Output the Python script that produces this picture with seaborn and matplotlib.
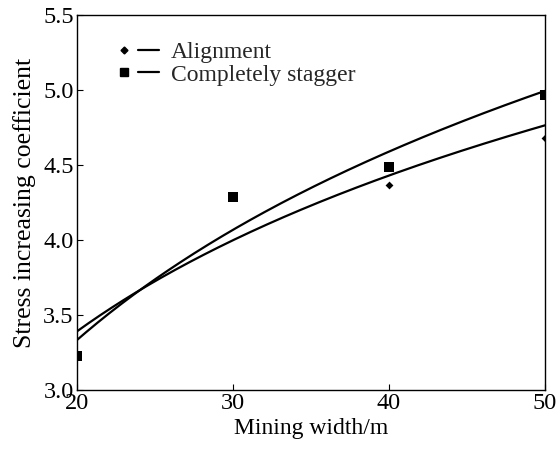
import matplotlib
matplotlib.use("Agg")
import matplotlib.pyplot as plt
from matplotlib.legend_handler import HandlerTuple
from matplotlib.lines import Line2D
import numpy as np
import pandas as pd
import seaborn as sns

## data

mining_width = [20, 30, 40, 50]
alignment = [3.24, 4.29, 4.37, 4.68]
stagger = [3.23, 4.29, 4.49, 4.97]
series_names = ["Alignment", "Completely stagger"]

x_ticks = [20, 30, 40, 50]
y_ticks = [3.0, 3.5, 4.0, 4.5, 5.0, 5.5]

sns.set_theme(style="ticks")
plt.rcParams['font.family'] = ['Liberation Serif', 'DejaVu Serif']

df = pd.DataFrame({"x": mining_width * 2,
                   "y": alignment + stagger,
                   "serie": [series_names[0]] * 4 + [series_names[1]] * 4})

# courbes de tendance logarithmiques y = a + b ln(x)
xs = np.linspace(min(mining_width), max(mining_width), 200)
fits = []
for vals, name in zip([alignment, stagger], series_names):
    b, a = np.polyfit(np.log(mining_width), vals, 1)
    fits.append(pd.DataFrame({"x": xs, "y": a + b * np.log(xs), "serie": name}))
df_fit = pd.concat(fits)

fig = plt.figure(figsize=(5.58, 4.54), dpi=100)
ax = fig.add_axes([76.5 / 558, 1 - 390 / 454, (545 - 76.5) / 558, (390 - 15) / 454])

sns.lineplot(data=df_fit, x="x", y="y", units="serie", estimator=None,
             color="black", linewidth=1.6, ax=ax, legend=False)

d1 = df[df.serie == series_names[0]]
d2 = df[df.serie == series_names[1]]
ax.scatter(d1.x, d1.y, marker="D", s=16, color="black", zorder=3, linewidths=0)
ax.scatter(d2.x, d2.y, marker="s", s=45, color="black", zorder=4, linewidths=0)

ax.set_xlim(20, 50)
ax.set_ylim(3.0, 5.5)
ax.set_xticks(x_ticks)
ax.set_yticks(y_ticks)
ax.set_xticklabels([str(t) for t in x_ticks])
ax.set_yticklabels(["%.1f" % t for t in y_ticks])
ax.tick_params(direction="in", length=4, width=0.8, labelsize=17.5, colors="black",
               top=False, right=False, pad=2)
for s in ax.spines.values():
    s.set_visible(True)
    s.set_linewidth(1.0)
    s.set_color("black")

ax.set_xlabel("Mining width/m", fontsize=17, color="black", labelpad=3)
ax.set_ylabel("Stress increasing coefficient", fontsize=18.5, color="black", labelpad=5)

h1 = (Line2D([], [], marker="D", markersize=3.5, color="black", linestyle="none"),
      Line2D([], [], color="black", linewidth=1.6))
h2 = (Line2D([], [], marker="s", markersize=6, color="black", linestyle="none"),
      Line2D([], [], color="black", linewidth=1.6))
leg = ax.legend([h1, h2], series_names, handler_map={tuple: HandlerTuple(ndivide=None, pad=0.15)},
                loc="upper left", bbox_to_anchor=(0.06, 0.955), frameon=False,
                fontsize=17, handlelength=1.9, handletextpad=0.5, labelspacing=0.05,
                borderaxespad=0)

fig.savefig("out.png", dpi=100)
